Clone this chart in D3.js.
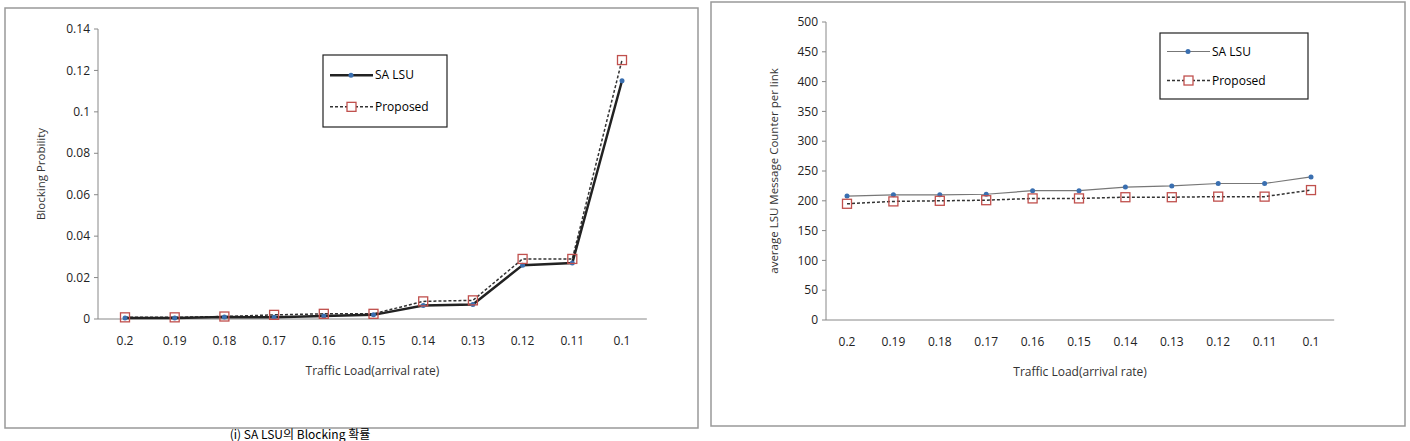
<!DOCTYPE html>
<html><head><meta charset="utf-8">
<script src="https://cdn.jsdelivr.net/npm/d3@7"></script>
<style>body{margin:0;background:#fff;font-family:"Open Sans",sans-serif}</style>
</head><body>
<svg id="c" width="1410" height="441"></svg>
<script>
const loads = ["0.2","0.19","0.18","0.17","0.16","0.15","0.14","0.13","0.12","0.11","0.1"];
const blockSA = [0.0005,0.0005,0.001,0.0008,0.0015,0.002,0.0065,0.007,0.026,0.027,0.115];
const blockProp = [0.0008,0.0008,0.0012,0.002,0.0025,0.0025,0.0085,0.009,0.029,0.029,0.125];
const lsuSA = [208,210,210,211,217,217,223,225,229,229,240];
const lsuProp = [195,199,200,201,204,204,206,206,207,207,218];
const blockTicks = [0,0.02,0.04,0.06,0.08,0.1,0.12,0.14];
const lsuTicks = d3.range(0,501,50);

const svg = d3.select("#c");

function chart(o) {
    const g = svg.append("g");
    g.append("rect").attr("x", o.frame[0]).attr("y", o.frame[1])
        .attr("width", o.frame[2]).attr("height", o.frame[3])
        .attr("fill", "#fff").attr("stroke", "#999").attr("stroke-width", 1.5);

    const x = d3.scalePoint().domain(loads).range([o.x0, o.x1]);
    const y = d3.scaleLinear().domain([0, o.ymax]).range([o.yb, o.yt]);
    const axisEnd = o.x1 + (o.x1 - o.x0) / 20;

    // y axis
    g.append("line").attr("x1", o.ax).attr("x2", o.ax).attr("y1", o.yt).attr("y2", o.yb).attr("stroke", "#888");
    o.ticks.forEach(t => {
        g.append("line").attr("x1", o.ax - 4).attr("x2", o.ax).attr("y1", y(t)).attr("y2", y(t)).attr("stroke", "#888");
        g.append("text").attr("x", o.ax - 8).attr("y", y(t)).attr("dy", "0.35em")
            .attr("text-anchor", "end").attr("font-size", 12).attr("fill", "#222").text(t);
    });
    // x axis
    g.append("line").attr("x1", o.ax).attr("x2", axisEnd).attr("y1", o.yb).attr("y2", o.yb).attr("stroke", "#888");
    loads.forEach(l => {
        g.append("text").attr("x", x(l)).attr("y", o.yb + 26).attr("text-anchor", "middle")
            .attr("font-size", 12).attr("fill", "#222").text(l);
    });
    g.append("text").attr("x", (o.ax + axisEnd) / 2).attr("y", o.yb + 56).attr("text-anchor", "middle")
        .attr("font-size", 12).attr("fill", "#333").text("Traffic Load(arrival rate)");
    g.append("text").attr("transform", `translate(${o.ytx},${(o.yt + o.yb) / 2}) rotate(-90)`)
        .attr("text-anchor", "middle").attr("font-size", 11.5).attr("fill", "#333").text(o.ytitle);

    const line = d3.line().x((d, i) => x(loads[i])).y(d => y(d));
    // proposed (dashed, red squares)
    g.append("path").datum(o.prop).attr("d", line).attr("fill", "none")
        .attr("stroke", "#333").attr("stroke-width", 1.5).attr("stroke-dasharray", "3,2");
    // SA LSU
    g.append("path").datum(o.sa).attr("d", line).attr("fill", "none")
        .attr("stroke", o.saColor).attr("stroke-width", o.saWidth);
    g.selectAll(null).data(o.sa).enter().append("circle")
        .attr("cx", (d, i) => x(loads[i])).attr("cy", d => y(d)).attr("r", 2.5).attr("fill", "#3a6fb0");
    g.selectAll(null).data(o.prop).enter().append("rect")
        .attr("x", (d, i) => x(loads[i]) - 4.5).attr("y", d => y(d) - 4.5)
        .attr("width", 9).attr("height", 9).attr("fill", "none").attr("stroke", "#c0504d").attr("stroke-width", 1.3);

    // legend
    const [lx, ly, lw, lh] = o.legend;
    g.append("rect").attr("x", lx).attr("y", ly).attr("width", lw).attr("height", lh)
        .attr("fill", "#fff").attr("stroke", "#222").attr("stroke-width", 1.2);
    const r1 = ly + lh * 0.28, r2 = ly + lh * 0.72;
    g.append("line").attr("x1", lx + 7).attr("x2", lx + 50).attr("y1", r1).attr("y2", r1)
        .attr("stroke", o.saColor).attr("stroke-width", o.saWidth);
    g.append("circle").attr("cx", lx + 28).attr("cy", r1).attr("r", 2.5).attr("fill", "#3a6fb0");
    g.append("text").attr("x", lx + 52).attr("y", r1).attr("dy", "0.35em").attr("font-size", 12).text("SA LSU");
    g.append("line").attr("x1", lx + 7).attr("x2", lx + 50).attr("y1", r2).attr("y2", r2)
        .attr("stroke", "#333").attr("stroke-width", 1.5).attr("stroke-dasharray", "3,2");
    g.append("rect").attr("x", lx + 24).attr("y", r2 - 4.5).attr("width", 9).attr("height", 9)
        .attr("fill", "#fff").attr("stroke", "#c0504d").attr("stroke-width", 1.3);
    g.append("text").attr("x", lx + 52).attr("y", r2).attr("dy", "0.35em").attr("font-size", 12).text("Proposed");
}

chart({frame: [5, 8, 693, 420], ax: 98, x0: 125, x1: 622, yt: 29, yb: 319, ymax: 0.14,
    ticks: blockTicks, ytitle: "Blocking Probility", ytx: 45, sa: blockSA, prop: blockProp,
    saColor: "#222", saWidth: 2.5, legend: [323, 55, 124, 72]});
chart({frame: [711, 2, 694, 424], ax: 826, x0: 847, x1: 1311, yt: 22, yb: 320, ymax: 500,
    ticks: lsuTicks, ytitle: "average LSU Message Counter per link", ytx: 778, sa: lsuSA, prop: lsuProp,
    saColor: "#777", saWidth: 1.2, legend: [1160, 33, 148, 66]});

svg.append("text").attr("x", 300).attr("y", 439).attr("text-anchor", "middle")
    .attr("font-family", "Noto Sans CJK KR").attr("font-size", 12).text("(i) SA LSU의 Blocking 확률");
</script>
</body></html>
